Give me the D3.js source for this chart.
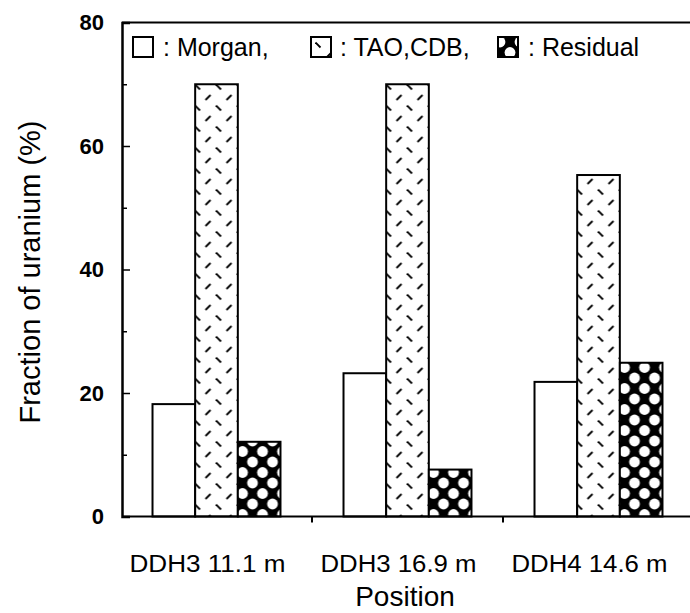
<!DOCTYPE html>
<html>
<head>
<meta charset="utf-8">
<script src="https://cdn.jsdelivr.net/npm/d3@7"></script>
<style>
  body { margin: 0; background: #fff; }
  svg { display: block; font-family: "Liberation Sans", Arial, sans-serif; }
</style>
</head>
<body>
<div id="chart"></div>
<script>
// positions along the x axis and the three extraction fractions
const positions = ['DDH3 11.1 m', 'DDH3 16.9 m', 'DDH4 14.6 m'];
const seriesNames = ['Morgan', 'TAO,CDB', 'Residual'];
const morgan = [18.2, 23.2, 21.8];
const taoCdb = [70.0, 70.0, 55.3];
const residual = [12.1, 7.6, 24.9];
const yMajorTicks = [0, 20, 40, 60, 80];
const yMinorTicks = [10, 30, 50, 70];

const width = 690, height = 613;
const margin = { top: 22.5, right: -4, bottom: 96.5, left: 121 };

const svg = d3.select('#chart').append('svg')
    .attr('width', width)
    .attr('height', height);

// patterns
const defs = svg.append('defs');

const hatch = defs.append('pattern')
    .attr('id', 'tao')
    .attr('patternUnits', 'userSpaceOnUse')
    .attr('width', 21).attr('height', 21);
hatch.append('rect').attr('width', 21).attr('height', 21).attr('fill', '#fff');
[[3, 3], [24, 3], [3, 24], [24, 24], [-18, 3], [3, -18]].forEach(([cx, cy]) => {
    hatch.append('line')
        .attr('x1', cx - 2.5).attr('y1', cy - 2.5)
        .attr('x2', cx + 2.5).attr('y2', cy + 2.5)
        .attr('stroke', '#000').attr('stroke-width', 1.8);
});
hatch.append('line')
    .attr('x1', 13.5 - 2.5).attr('y1', 13.5 + 2.5)
    .attr('x2', 13.5 + 2.5).attr('y2', 13.5 - 2.5)
    .attr('stroke', '#000').attr('stroke-width', 1.8);

const dots = defs.append('pattern')
    .attr('id', 'residual')
    .attr('patternUnits', 'userSpaceOnUse')
    .attr('width', 20).attr('height', 21);
dots.append('rect').attr('width', 20).attr('height', 21).attr('fill', '#000');
[[0, 0], [20, 0], [0, 21], [20, 21], [10, 10.5]].forEach(([cx, cy]) => {
    dots.append('circle')
        .attr('cx', cx).attr('cy', cy).attr('r', 5.4)
        .attr('fill', '#fff');
});

const fills = ['#fff', 'url(#tao)', 'url(#residual)'];

// scales
const y = d3.scaleLinear()
    .domain([0, 80])
    .range([height - margin.bottom, margin.top]);

const x0 = d3.scaleBand()
    .domain(positions)
    .range([margin.left, width - margin.right])
    .paddingInner(0.33)
    .paddingOuter(0.165);

const x1 = d3.scaleBand()
    .domain(seriesNames)
    .range([0, x0.bandwidth()]);

const tableData = positions.map((p, i) => ({
    position: p,
    values: [morgan[i], taoCdb[i], residual[i]]
}));

// bars
const groups = svg.selectAll('.group')
    .data(tableData)
    .enter().append('g')
    .attr('class', 'group')
    .attr('transform', d => `translate(${x0(d.position)},0)`);

groups.selectAll('rect')
    .data(d => d.values.map((v, j) => ({ name: seriesNames[j], value: v, idx: j })))
    .enter().append('rect')
    .attr('x', d => x1(d.name))
    .attr('y', d => y(d.value))
    .attr('width', x1.bandwidth())
    .attr('height', d => y(0) - y(d.value))
    .attr('fill', d => fills[d.idx])
    .attr('stroke', '#000')
    .attr('stroke-width', 2);

// frame
const x0Left = margin.left + 1;
svg.append('line')
    .attr('x1', x0Left).attr('x2', width)
    .attr('y1', y(80)).attr('y2', y(80))
    .attr('stroke', '#000').attr('stroke-width', 2);
svg.append('line')
    .attr('x1', x0Left).attr('x2', width)
    .attr('y1', y(0)).attr('y2', y(0))
    .attr('stroke', '#000').attr('stroke-width', 2);

// y axis
const yAxis = svg.append('g')
    .attr('transform', `translate(${x0Left},0)`)
    .call(d3.axisLeft(y).tickValues(yMajorTicks).tickSize(-8).tickPadding(18));
yAxis.select('.domain').attr('stroke-width', 2.5);
yAxis.selectAll('.tick line').attr('stroke-width', 1.5);
yAxis.selectAll('.tick text')
    .attr('font-size', 22)
    .attr('font-weight', 'bold')
    .attr('font-family', '"Liberation Sans", Arial, sans-serif')
    .attr('fill', '#000');

svg.append('g')
    .attr('transform', `translate(${x0Left},0)`)
    .call(d3.axisLeft(y).tickValues(yMinorTicks).tickSize(-5).tickFormat(''))
    .call(g => g.select('.domain').remove())
    .selectAll('.tick line').attr('stroke-width', 1.5);

// x axis: boundary ticks between groups and labels
const step = x0.step();
const boundaries = positions.slice(1).map(p => x0(p) - step * x0.paddingInner() / 2);
svg.selectAll('.xtick')
    .data(boundaries)
    .enter().append('line')
    .attr('x1', d => d).attr('x2', d => d)
    .attr('y1', y(0)).attr('y2', y(0) + 6)
    .attr('stroke', '#000').attr('stroke-width', 2);

svg.selectAll('.xlabel')
    .data(positions)
    .enter().append('text')
    .attr('x', d => x0(d) + x0.bandwidth() / 2 - 9)
    .attr('y', 572)
    .attr('text-anchor', 'middle')
    .attr('font-size', 23)
    .attr('textLength', 156)
    .attr('lengthAdjust', 'spacingAndGlyphs')
    .text(d => d);

// axis titles
svg.append('text')
    .attr('x', 405)
    .attr('y', 606)
    .attr('text-anchor', 'middle')
    .attr('font-size', 28)
    .text('Position');

svg.append('text')
    .attr('transform', `translate(40,272) rotate(-90)`)
    .attr('text-anchor', 'middle')
    .attr('font-size', 29)
    .text('Fraction of uranium (%)');

// legend
const legendItems = [
    { box: 133, text: 163, fill: fills[0], label: ': Morgan,' },
    { box: 311, text: 340, fill: fills[1], label: ': TAO,CDB,' },
    { box: 498, text: 528, fill: fills[2], label: ': Residual' }
];
const legend = svg.append('g').attr('class', 'legend');
legend.selectAll('rect')
    .data(legendItems)
    .enter().append('rect')
    .attr('x', d => d.box).attr('y', 37)
    .attr('width', 20).attr('height', 20)
    .attr('fill', d => d.fill)
    .attr('stroke', '#000').attr('stroke-width', 2);
legend.selectAll('text')
    .data(legendItems)
    .enter().append('text')
    .attr('x', d => d.text)
    .attr('y', 56)
    .attr('font-size', 25)
    .text(d => d.label);
</script>
</body>
</html>
